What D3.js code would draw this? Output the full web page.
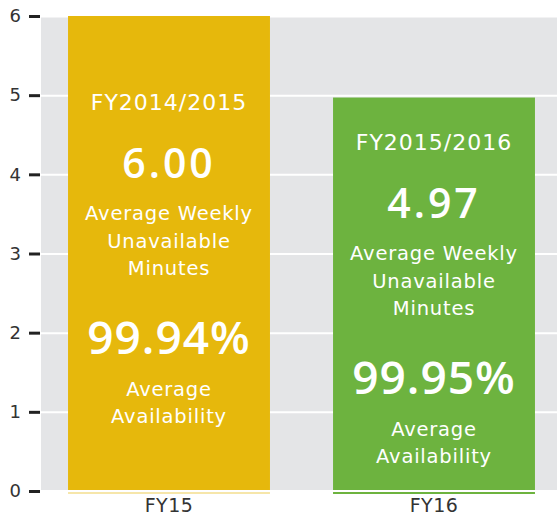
<!DOCTYPE html>
<html>
<head>
<meta charset="utf-8">
<script src="https://cdn.jsdelivr.net/npm/d3@7"></script>
<style>
  body { margin: 0; background: #fff; }
  svg { display: block; font-family: "DejaVu Sans", sans-serif; }
</style>
</head>
<body>
<script>
// chart data
var categories = ["FY15", "FY16"];
var minutes = [6.00, 4.97];
var periods = ["FY2014/2015", "FY2015/2016"];
var availability = ["99.94%", "99.95%"];
var yTicks = [0, 1, 2, 3, 4, 5, 6];
var colors = ["#e6b80c", "#6db33f"];

var width = 557, height = 517;
var plotLeft = 41, plotRight = 557, plotTop = 16, plotBottom = 491;

var svg = d3.select("body").append("svg")
  .attr("width", width)
  .attr("height", height);

var x = d3.scaleBand()
  .domain(categories)
  .range([plotLeft, 562])
  .paddingInner(0.238)
  .paddingOuter(0.102);

var y = d3.scaleLinear()
  .domain([0, 6])
  .range([plotBottom, plotTop]);

// grey plot background
svg.append("rect")
  .attr("x", plotLeft)
  .attr("y", plotTop)
  .attr("width", plotRight - plotLeft)
  .attr("height", plotBottom - plotTop - 1)
  .attr("fill", "#e4e5e7");

// white gridlines
var grid = svg.append("g")
  .attr("transform", "translate(" + plotLeft + ",0)")
  .call(d3.axisLeft(y).tickValues(yTicks).tickSize(-(plotRight - plotLeft)).tickFormat(""));
grid.select(".domain").remove();
grid.selectAll(".tick line").attr("stroke", "#fff").attr("stroke-width", 2);

// bars
var bars = svg.selectAll(".bar")
  .data(categories)
  .enter().append("g")
  .attr("class", "bar");

bars.append("rect")
  .attr("x", function (d) { return x(d); })
  .attr("y", function (d, i) { return y(minutes[i]); })
  .attr("width", x.bandwidth())
  .attr("height", function (d, i) { return y(0) - y(minutes[i]) - 1; })
  .attr("fill", function (d, i) { return colors[i]; });

// thin baseline under each bar
bars.append("rect")
  .attr("x", function (d) { return x(d); })
  .attr("y", y(0) + 1)
  .attr("width", x.bandwidth())
  .attr("height", 2)
  .attr("fill", function (d, i) { return colors[i]; })
  .attr("opacity", function (d, i) { return i === 0 ? 0.35 : 1; });

// text inside the bars, placed around the bar middle
var big = "'Open Sans', sans-serif";
var small = "'DejaVu Sans', sans-serif";
var lines = [
  { off: -144, size: 22, weight: "normal", font: small, ls: 1, text: function (i) { return periods[i]; } },
  { off: -76, size: 41, weight: 600, font: big, ls: 3, text: function (i) { return minutes[i].toFixed(2); } },
  { off: -34, size: 19.5, weight: "normal", font: small, ls: 0.8, text: function () { return "Average Weekly"; } },
  { off: -6, size: 19.5, weight: "normal", font: small, ls: 0.8, text: function () { return "Unavailable"; } },
  { off: 21, size: 19.5, weight: "normal", font: small, ls: 0.8, text: function () { return "Minutes"; } },
  { off: 100, size: 46, weight: 600, font: big, ls: 1, text: function (i) { return availability[i]; } },
  { off: 142, size: 19.5, weight: "normal", font: small, ls: 0.8, text: function () { return "Average"; } },
  { off: 169, size: 19.5, weight: "normal", font: small, ls: 0.8, text: function () { return "Availability"; } }
];

bars.each(function (d, i) {
  var g = d3.select(this);
  var mid = (y(minutes[i]) + y(0)) / 2;
  lines.forEach(function (l) {
    g.append("text")
      .attr("x", x(d) + x.bandwidth() / 2)
      .attr("y", mid + l.off)
      .attr("text-anchor", "middle")
      .attr("fill", "#fff")
      .attr("font-family", l.font)
      .attr("font-size", l.size)
      .attr("font-weight", l.weight)
      .attr("letter-spacing", l.ls)
      .text(l.text(i));
  });
});

// y axis
var yAxis = svg.append("g")
  .attr("transform", "translate(40,0)")
  .call(d3.axisLeft(y).tickValues(yTicks).tickSize(11).tickPadding(8).tickFormat(d3.format("d")));
yAxis.select(".domain").remove();
yAxis.selectAll(".tick line").attr("stroke", "#222").attr("stroke-width", 3);
yAxis.selectAll(".tick text")
  .attr("fill", "#333")
  .attr("font-size", 18)
  .attr("font-family", "DejaVu Sans, sans-serif");

// x labels
svg.selectAll(".xlabel")
  .data(categories)
  .enter().append("text")
  .attr("class", "xlabel")
  .attr("x", function (d) { return x(d) + x.bandwidth() / 2; })
  .attr("y", 512)
  .attr("text-anchor", "middle")
  .attr("fill", "#333")
  .attr("font-size", 19)
  .attr("letter-spacing", 0.5)
  .text(function (d) { return d; });
</script>
</body>
</html>
